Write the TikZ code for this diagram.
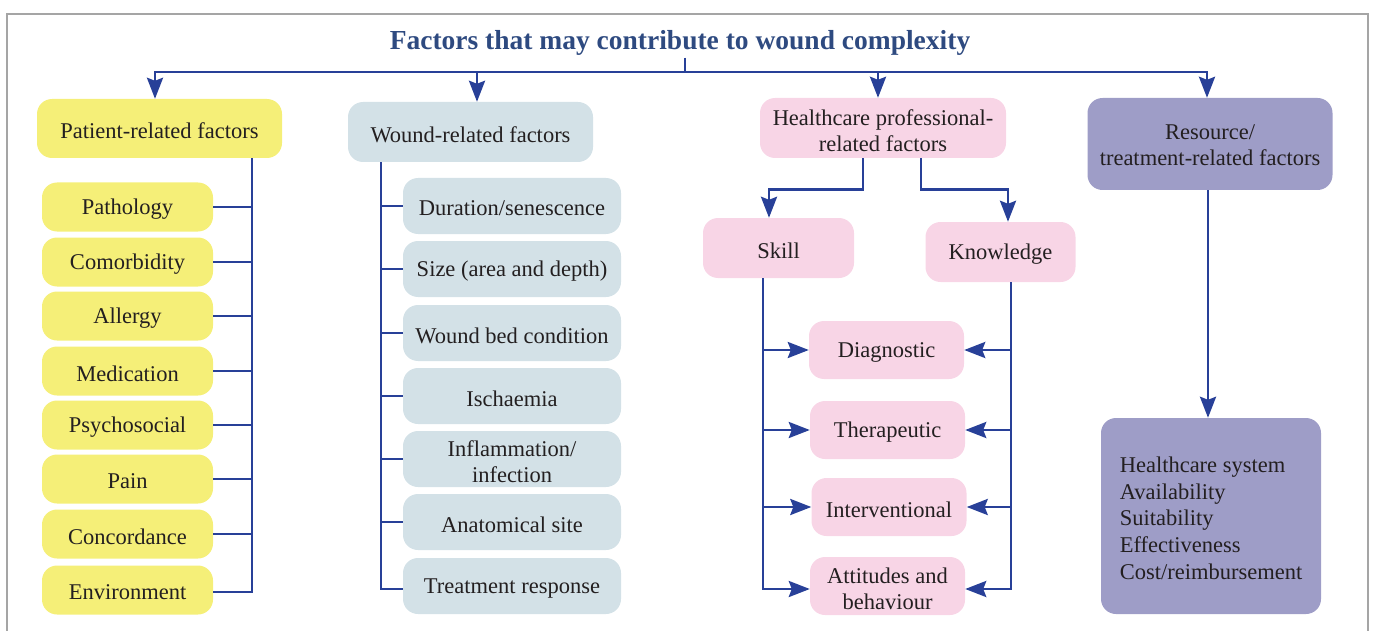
\documentclass[tikz,border=0pt]{standalone}
\usepackage{fontspec}
\setmainfont{Liberation Serif}
\usetikzlibrary{arrows.meta,calc}
\definecolor{lnc}{RGB}{40,64,152}
\definecolor{ttl}{RGB}{46,74,128}
\definecolor{txt}{RGB}{35,31,32}
\definecolor{yel}{RGB}{245,239,120}
\definecolor{wnd}{RGB}{211,225,231}
\definecolor{pnk}{RGB}{248,213,230}
\definecolor{prp}{RGB}{158,157,199}
\definecolor{frm}{RGB}{165,165,165}
% box node (#2 style, #3 name, #4 position) with its text (#5) set #1 lower
\newcommand\bx[5][2.5pt]{%
  \node[#2] (#3) at (#4) {};
  \node[btxt] (#3t) at ([yshift=-#1]#3.center) {#5};}
\begin{document}
\begin{tikzpicture}[x=1pt,y=-1pt,
  fbox/.style={rounded corners=15pt, inner sep=0pt},
  btxt/.style={inner sep=0pt, align=center, text=txt, font=\fontsize{22.5}{26}\selectfont},
  ybox/.style={fbox, fill=yel, minimum width=171pt, minimum height=49pt},
  wbox/.style={fbox, fill=wnd, minimum width=218pt, minimum height=56pt},
  pbox/.style={fbox, fill=pnk, minimum width=155pt, minimum height=58pt},
  conn/.style={draw=lnc, line width=2.8pt},
  arr/.style={conn, -{Stealth[length=21pt,width=16pt,inset=3pt]}}
]
\useasboundingbox (0,0) rectangle (1375,631);
\draw[frm, line width=1.5pt] (7,631) -- (7,14) -- (1368,14) -- (1368,631);

\node[font=\bfseries\fontsize{27.5}{32}\selectfont, text=ttl, inner sep=2pt] (title) at (680,43)
  {Factors that may contribute to wound complexity};
\coordinate (hub) at (685,72);

% top-level boxes
\bx{fbox, fill=yel, minimum width=245pt, minimum height=59pt}{pat}{159.5,128.5}{Patient-related factors}
\bx{fbox, fill=wnd, minimum width=245pt, minimum height=60pt}{wnd}{470.5,132}{Wound-related factors}
\bx{fbox, fill=pnk, minimum width=246pt, minimum height=60pt}{hcp}{883,128}{Healthcare professional-\\related factors}
\bx[1pt]{fbox, fill=prp, minimum width=245pt, minimum height=92pt}{res}{1210,144}{Resource/\\treatment-related factors}

\draw[conn] (title.south -| hub) -- (hub);
\draw[arr] (hub) -| ([xshift=-4.5pt]pat.north);
\draw[arr] (hub) -| ([xshift=6.5pt]wnd.north);
\draw[arr] (hub) -| ([xshift=-5pt]hcp.north);
\draw[arr] (hub) -| ([xshift=-3pt]res.north);

% patient children
\bx{ybox}{p1}{127.5,207}{Pathology}
\bx{ybox}{p2}{127.5,262}{Comorbidity}
\bx{ybox}{p3}{127.5,316}{Allergy}
\bx{ybox}{p4}{127.5,371}{Medication}
\bx{ybox}{p5}{127.5,425}{Psychosocial}
\bx{ybox}{p6}{127.5,479}{Pain}
\bx{ybox}{p7}{127.5,534}{Concordance}
\bx{ybox}{p8}{127.5,590}{Environment}
\coordinate (pt) at (252,0);
\draw[conn] (pat.south -| pt) |- ([yshift=-2pt]p8.east);
\foreach \n in {p1,p2,p3,p4,p5,p6,p7} \draw[conn] (\n.east) -- (\n.east -| pt);

% wound children
\bx{wbox}{w1}{512,206}{Duration/senescence}
\bx{wbox}{w2}{512,269}{Size (area and depth)}
\bx{wbox}{w3}{512,333}{Wound bed condition}
\bx{wbox}{w4}{512,396}{Ischaemia}
\bx{wbox}{w5}{512,459}{Inflammation/\\infection}
\bx{wbox}{w6}{512,522}{Anatomical site}
\bx{wbox}{w7}{512,586}{Treatment response}
\coordinate (wt) at (381,0);
\draw[conn] (wnd.south -| wt) |- ([yshift=-3pt]w7.west);
\foreach \n in {w1,w2,w3,w4,w5,w6} \draw[conn] (\n.west) -- (\n.west -| wt);

% healthcare professional
\bx{fbox, fill=pnk, minimum width=151pt, minimum height=60pt}{skl}{778.5,248}{Skill}
\bx{fbox, fill=pnk, minimum width=150pt, minimum height=60pt}{knw}{1000.5,252}{Knowledge}
\draw[arr] ([xshift=-20pt]hcp.south) -- ++(0,31) -| ([xshift=-9.5pt]skl.north);
\draw[arr] ([xshift=38pt]hcp.south) -- ++(0,31) -| ([xshift=7.5pt]knw.north);

\bx{pbox}{h1}{886.5,350}{Diagnostic}
\bx{pbox}{h2}{887.5,430}{Therapeutic}
\bx{pbox}{h3}{889,507}{Interventional}
\bx{pbox}{h4}{887.5,586}{Attitudes and\\behaviour}
\coordinate (lt) at (763,0);
\coordinate (rt) at (1011,0);
\draw[arr] (skl.south -| lt) |- ([yshift=-3pt]h4.west);
\draw[arr] (knw.south -| rt) |- ([yshift=-3pt]h4.east);
\foreach \n in {h1,h2,h3} {
  \draw[arr] (\n.west -| lt) -- (\n.west);
  \draw[arr] (\n.east -| rt) -- (\n.east);
}

% resource
\node[fbox, fill=prp, minimum width=220pt, minimum height=196pt] (res2) at (1211,516) {};
\node[btxt, align=left, font=\fontsize{22.5}{26.7}\selectfont] (res2t) at ([yshift=-2pt]res2.center)
  {Healthcare system\\Availability\\Suitability\\Effectiveness\\Cost/reimbursement};
\draw[arr] ([xshift=-2pt]res.south) -- ([xshift=-2pt]res.south |- res2.north);
\end{tikzpicture}
\end{document}
